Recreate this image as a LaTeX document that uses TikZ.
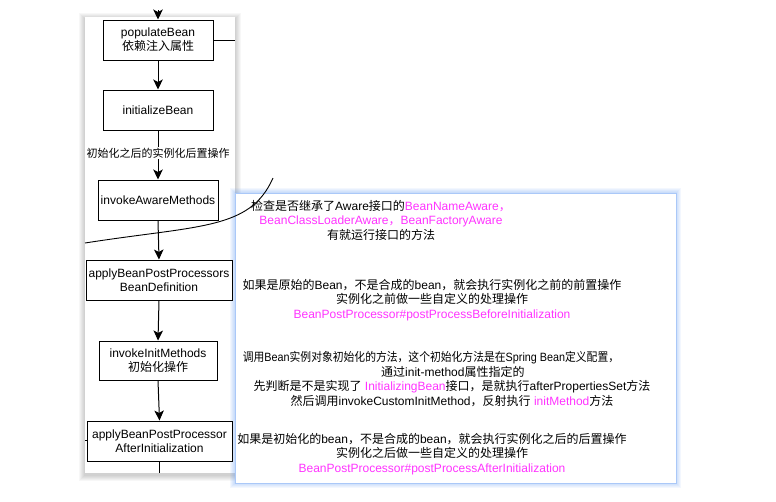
\documentclass[tikz,border=0pt]{standalone}
\usepackage{fontspec}
\usepackage{graphicx}
\setmainfont{Liberation Sans}
\newfontfamily\cjk{Noto Sans CJK SC}
\newcommand\C[1]{{\cjk #1}}
\usetikzlibrary{arrows.meta}
\definecolor{mag}{RGB}{255,51,255}
\definecolor{glow}{RGB}{90,150,245}
\definecolor{pborder}{RGB}{170,200,248}
\begin{document}
\begin{tikzpicture}[x=1pt,y=-1pt,
  box/.style={draw=black,line width=1pt,fill=white,align=center,
    font=\fontsize{12}{14}\selectfont,inner sep=0pt,minimum height=40pt},
  arr/.style={-{Stealth[length=10pt,width=9.5pt,inset=2.5pt]},line width=1pt},
  conn/.style={line width=1pt},
  txt/.style={align=center,font=\fontsize{12}{14.5}\selectfont,inner sep=0pt},
  lbl/.style={fill=white,font=\fontsize{11}{13}\selectfont,inner sep=1pt}]
\useasboundingbox (0,0) rectangle (776,501);
\fill[white] (0,0) rectangle (776,501);
% left panel with shadow
\foreach \i in {1,...,6}
  \fill[black,opacity=0.03] (85-\i,17-\i+2) rectangle (235+\i,473+\i+2);
\fill[white] (85,17) rectangle (235,473);
% right panel with glow
\foreach \i in {1,...,5}
  \fill[glow,opacity=0.07] (235-\i,193-\i) rectangle (676+\i,483+\i);
\fill[white] (235,193) rectangle (676,483);
\draw[pborder,line width=0.8pt] (235,193) rectangle (676,483);

% boxes
\node[box,minimum width=110pt] (pop) at (158,40) {populateBean\\\C{依赖注入属性}};
\node[box,minimum width=110pt] (init) at (158,110) {initializeBean};
\node[box,minimum width=120pt] (aware) at (158,200) {invokeAwareMethods};
\node[box,minimum width=146pt] (bpp) at (159,280) {applyBeanPostProcessors\\BeanDefinition};
\node[box,minimum width=118pt,minimum height=39pt] (initm) at (158,360.5) {invokeInitMethods\\\C{初始化操作}};
\node[box,minimum width=145pt] (after) at (159.5,441) {applyBeanPostProcessor\\AfterInitialization};

% free ends
\coordinate (topin) at (158,10);
\coordinate (popout) at (235,40);
\coordinate (botout) at (159.5,473);
\coordinate (tick) at (85,440);
\coordinate (cs) at (85,243);
\coordinate (ce) at (273,178);

% connectors
\draw[arr] (topin) -- (pop.north);
\draw[conn] (pop.east) -- (popout);
\draw[arr] (pop.south) -- (init.north);
\draw[arr] (init.south) -- node[lbl,pos=0.46] (l1) {\C{初始化之后的实例化后置操作}} (aware.north);
\draw[arr] (aware.south) -- (bpp.north);
\draw[arr] (bpp.south) -- (initm.north);
\draw[arr] (initm.south) -- (after.north);
\draw[conn] (after.south) -- (botout);
\draw[conn] (tick) -- (after.west |- tick);
\draw[line width=0.9pt] (cs) .. controls (200,225) and (250,230) .. (ce);

% texts
\node[txt] (t1) at (381,220) {\C{检查是否继承了}Aware\C{接口的}\textcolor{mag}{BeanNameAware\C{，}}\\
  \textcolor{mag}{BeanClassLoaderAware\C{，}BeanFactoryAware}\\
  \C{有就运行接口的方法}};
\node[txt] (t2) at (432,300) {\C{如果是原始的}Bean\C{，不是合成的}bean\C{，就会执行实例化之前的前置操作}\\
  \C{实例化之前做一些自定义的处理操作}\\
  \textcolor{mag}{BeanPostProcessor\#postProcessBeforeInitialization}};
\node[txt] (t3) at (431,358) {\scalebox{0.9}[1]{\C{调用}Bean\C{实例对象初始化的方法，这个初始化方法是在}Spring Bean\C{定义配置，}}};
\node[txt,anchor=west] (t3a) at (381,372) {\C{通过}init-method\C{属性指定的}};
\node[txt] (t3b) at (452,393.5) {\C{先判断是不是实现了} \textcolor{mag}{InitializingBean}\C{接口，是就执行}afterPropertiesSet\C{方法}\\
  \C{然后调用}invokeCustomInitMethod\C{，反射执行} \textcolor{mag}{initMethod}\C{方法}};
\node[txt] (t4) at (432,454) {\C{如果是初始化的}bean\C{，不是合成的}bean\C{，就会执行实例化之后的后置操作}\\
  \C{实例化之后做一些自定义的处理操作}\\
  \textcolor{mag}{BeanPostProcessor\#postProcessAfterInitialization}};
\end{tikzpicture}
\end{document}
